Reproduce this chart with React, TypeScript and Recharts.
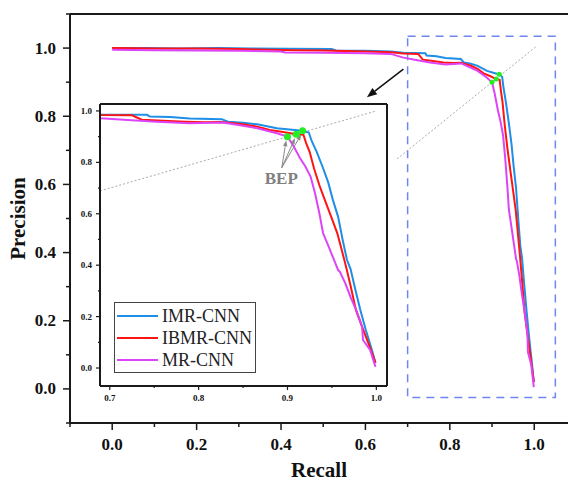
import React from "react";
import {
  ComposedChart,
  Line,
  XAxis,
  YAxis,
  ReferenceArea,
  ReferenceLine,
  ReferenceDot,
} from "recharts";

const seriesNames = ["IMR-CNN", "IBMR-CNN", "MR-CNN"];
const seriesColors = ["#1f8ee6", "#ff1414", "#dd44f7"];

const imrRecall = [0, 0.08, 0.16, 0.25, 0.33, 0.42, 0.52, 0.53, 0.6, 0.66, 0.69, 0.742, 0.745, 0.768, 0.79, 0.826, 0.833, 0.85, 0.866, 0.888, 0.905, 0.917, 0.924, 0.927, 0.933, 0.94, 0.946, 0.951, 0.957, 0.962, 0.967, 0.971, 0.976, 0.982, 0.988, 0.995, 0.999];
const imrPrecision = [1.0, 1.0, 0.999, 1.0, 0.999, 0.998, 0.997, 0.993, 0.992, 0.99, 0.986, 0.985, 0.978, 0.976, 0.971, 0.968, 0.958, 0.954, 0.948, 0.933, 0.927, 0.923, 0.916, 0.885, 0.84, 0.778, 0.72, 0.655, 0.588, 0.5, 0.42, 0.385, 0.31, 0.226, 0.15, 0.07, 0.02];

const ibmrRecall = [0, 0.1, 0.2, 0.3, 0.37, 0.43, 0.5, 0.6, 0.66, 0.69, 0.725, 0.736, 0.76, 0.785, 0.807, 0.826, 0.85, 0.866, 0.88, 0.895, 0.91, 0.918, 0.921, 0.925, 0.93, 0.936, 0.942, 0.949, 0.956, 0.961, 0.966, 0.971, 0.977, 0.984, 0.991, 0.996, 0.999];
const ibmrPrecision = [1.0, 0.999, 0.999, 0.997, 0.995, 0.994, 0.993, 0.99, 0.988, 0.984, 0.983, 0.966, 0.962, 0.958, 0.956, 0.957, 0.948, 0.939, 0.926, 0.918, 0.909, 0.907, 0.875, 0.84, 0.775, 0.71, 0.654, 0.59, 0.525, 0.46, 0.393, 0.32, 0.226, 0.16, 0.097, 0.05, 0.02];

const mrRecall = [0, 0.1, 0.2, 0.3, 0.4, 0.41, 0.5, 0.6, 0.66, 0.69, 0.72, 0.753, 0.79, 0.827, 0.845, 0.866, 0.888, 0.9, 0.906, 0.914, 0.92, 0.926, 0.931, 0.936, 0.94, 0.946, 0.951, 0.957, 0.959, 0.965, 0.971, 0.978, 0.984, 0.985, 0.993, 0.999];
const mrPrecision = [0.995, 0.994, 0.993, 0.992, 0.99, 0.987, 0.986, 0.985, 0.983, 0.972, 0.965, 0.958, 0.952, 0.955, 0.945, 0.933, 0.913, 0.9, 0.868, 0.817, 0.785, 0.745, 0.68, 0.6, 0.525, 0.475, 0.432, 0.381, 0.374, 0.33, 0.276, 0.22, 0.16, 0.109, 0.07, 0.005];

// break-even points (blue, red, magenta)
const bepRecall = [0.917, 0.91, 0.9];
const bepPrecision = [0.923, 0.909, 0.9];

const mainTicksX = [-0.1, 0, 0.1, 0.2, 0.3, 0.4, 0.5, 0.6, 0.7, 0.8, 0.9, 1.0];
const mainTicksY = [-0.1, 0, 0.1, 0.2, 0.3, 0.4, 0.5, 0.6, 0.7, 0.8, 0.9, 1.0, 1.1];
const insetTicksX = [0.7, 0.75, 0.8, 0.85, 0.9, 0.95, 1.0];
const insetTicksY = [0, 0.1, 0.2, 0.3, 0.4, 0.5, 0.6, 0.7, 0.8, 0.9, 1.0];

const toPoints = (r: number[], p: number[]) => r.map((x, i) => ({ recall: x, precision: p[i] }));
const series = [
  toPoints(imrRecall, imrPrecision),
  toPoints(ibmrRecall, ibmrPrecision),
  toPoints(mrRecall, mrPrecision),
];

const FONT = "'Liberation Serif', 'Times New Roman', serif";
const AXIS = "#1a1a1a";

const isMajor = (v: number, step: number) => Math.abs(Math.round(v / step) * step - v) < 1e-6;

const MainYTick = (props: any) => {
  const { x, y, payload } = props;
  const major = isMajor(payload.value, 0.2);
  return (
    <g>
      <line x1={x} x2={x - (major ? 7 : 4)} y1={y} y2={y} stroke={AXIS} strokeWidth={1.5} />
      {major && (
        <text x={x - 14} y={y} textAnchor="end" dominantBaseline="central" fontFamily={FONT} fontWeight="bold" fontSize={17} fill="#111">
          {payload.value.toFixed(1)}
        </text>
      )}
    </g>
  );
};

const MainXTick = (props: any) => {
  const { x, y, payload } = props;
  const major = isMajor(payload.value, 0.2);
  return (
    <g>
      <line x1={x} x2={x} y1={y} y2={y + (major ? 7 : 4)} stroke={AXIS} strokeWidth={1.5} />
      {major && (
        <text x={x} y={y + 27} textAnchor="middle" fontFamily={FONT} fontWeight="bold" fontSize={17} fill="#111">
          {payload.value.toFixed(1)}
        </text>
      )}
    </g>
  );
};

const InsetYTick = (props: any) => {
  const { x, y, payload } = props;
  const major = isMajor(payload.value, 0.2);
  return (
    <g>
      <line x1={x} x2={x - (major ? 4 : 2)} y1={y} y2={y} stroke={AXIS} strokeWidth={1.2} />
      {major && (
        <text x={x - 8} y={y} textAnchor="end" dominantBaseline="central" fontFamily={FONT} fontWeight="bold" fontSize={9} fill="#111">
          {payload.value.toFixed(1)}
        </text>
      )}
    </g>
  );
};

const InsetXTick = (props: any) => {
  const { x, y, payload } = props;
  const major = isMajor(payload.value, 0.1);
  return (
    <g>
      <line x1={x} x2={x} y1={y} y2={y + (major ? 4 : 2)} stroke={AXIS} strokeWidth={1.2} />
      {major && (
        <text x={x} y={y + 15} textAnchor="middle" fontFamily={FONT} fontWeight="bold" fontSize={9} fill="#111">
          {payload.value.toFixed(1)}
        </text>
      )}
    </g>
  );
};

const Arrow = (props: any) => {
  const { x1, y1, x2, y2, stroke, strokeWidth, head = 8, spread = 3 } = props;
  const ang = Math.atan2(y2 - y1, x2 - x1);
  const bx = x2 - head * Math.cos(ang);
  const by = y2 - head * Math.sin(ang);
  const px = -Math.sin(ang) * spread;
  const py = Math.cos(ang) * spread;
  return (
    <g>
      <line x1={x1} y1={y1} x2={bx} y2={by} stroke={stroke} strokeWidth={strokeWidth} />
      <polygon points={`${x2},${y2} ${bx + px},${by + py} ${bx - px},${by - py}`} fill={stroke} />
    </g>
  );
};

function Curves() {
  return series.map((d, i) => (
    <Line
      key={seriesNames[i]}
      data={d}
      dataKey="precision"
      name={seriesNames[i]}
      type="linear"
      stroke={seriesColors[i]}
      strokeWidth={2}
      dot={false}
      isAnimationActive={false}
    />
  ));
}

function InsetLegend() {
  return (
    <div
      style={{
        position: "absolute",
        left: 114,
        top: 302,
        width: 142,
        height: 71,
        boxSizing: "border-box",
        border: "1px solid #444",
        background: "#fff",
        paddingTop: 2,
        fontFamily: FONT,
        fontSize: 18,
        color: "#222",
      }}
    >
      {seriesNames.map((n, i) => (
        <div key={n} style={{ height: 22, lineHeight: "22px", display: "flex", alignItems: "center", whiteSpace: "nowrap" }}>
          <span style={{ display: "inline-block", width: 41, height: 2.5, marginLeft: 2, background: seriesColors[i] }} />
          <span style={{ marginLeft: 4 }}>{n}</span>
        </div>
      ))}
    </div>
  );
}

export default function App() {
  return (
    <div style={{ position: "absolute", left: 0, top: 0, width: 568, height: 483, overflow: "hidden", background: "#fff" }}>
      <ComposedChart width={568} height={483} margin={{ top: 14, right: 0, bottom: 0, left: 8 }}>
        <XAxis
          type="number"
          dataKey="recall"
          domain={[-0.1, 1.08]}
          allowDataOverflow
          ticks={mainTicksX}
          interval={0}
          tick={<MainXTick />}
          tickLine={false}
          tickSize={0}
          tickMargin={0}
          height={60}
          axisLine={{ stroke: AXIS, strokeWidth: 2 }}
          label={{ value: "Recall", position: "insideBottom", offset: 6, style: { fontFamily: FONT, fontWeight: "bold", fontSize: 21, fill: "#111" } }}
        />
        <YAxis
          type="number"
          domain={[-0.1, 1.1]}
          allowDataOverflow
          ticks={mainTicksY}
          interval={0}
          tick={<MainYTick />}
          tickLine={false}
          tickSize={0}
          tickMargin={0}
          width={62}
          axisLine={{ stroke: AXIS, strokeWidth: 2 }}
          label={{ value: "Precision", angle: -90, position: "insideLeft", offset: 10, textAnchor: "middle", style: { fontFamily: FONT, fontWeight: "bold", fontSize: 21, fill: "#111" } }}
        />
        <ReferenceLine y={1.1} stroke={AXIS} strokeWidth={2} ifOverflow="visible" />
        <ReferenceArea
          x1={0.7}
          x2={1.05}
          y1={-0.025}
          y2={1.035}
          fill="none"
          fillOpacity={0}
          stroke="#6f86f2"
          strokeWidth={1.5}
          strokeDasharray="8 6"
          ifOverflow="visible"
        />
        <ReferenceLine
          segment={[{ x: 0.675, y: 0.675 }, { x: 1.005, y: 1.005 }]}
          stroke="#aaaaaa"
          strokeDasharray="2 2"
          strokeWidth={1}
          ifOverflow="visible"
        />
        {Curves()}
        {bepRecall.map((r, i) => (
          <ReferenceDot key={"m" + i} x={r} y={bepPrecision[i]} r={2.5} fill="#22ee22" stroke="none" ifOverflow="visible" />
        ))}
        <ReferenceLine
          segment={[{ x: 0.69, y: 0.938 }, { x: 0.6035, y: 0.856 }]}
          stroke="#111"
          strokeWidth={1.5}
          ifOverflow="visible"
          shape={(p: any) => <Arrow {...p} head={10} spread={4} />}
        />
      </ComposedChart>

      <div style={{ position: "absolute", left: 70, top: 100, width: 320, height: 310 }}>
        <ComposedChart width={320} height={310} margin={{ top: 4, right: 3, bottom: 0, left: 0 }}>
          <XAxis
            type="number"
            dataKey="recall"
            domain={[0.689, 1.012]}
            allowDataOverflow
            ticks={insetTicksX}
            interval={0}
            tick={<InsetXTick />}
            tickLine={false}
            tickSize={0}
            tickMargin={0}
            height={24}
            axisLine={{ stroke: AXIS, strokeWidth: 2 }}
          />
          <YAxis
            type="number"
            domain={[-0.07, 1.027]}
            allowDataOverflow
            ticks={insetTicksY}
            interval={0}
            tick={<InsetYTick />}
            tickLine={false}
            tickSize={0}
            tickMargin={0}
            width={30}
            axisLine={{ stroke: AXIS, strokeWidth: 2 }}
          />
          <ReferenceLine y={1.027} stroke={AXIS} strokeWidth={2} ifOverflow="visible" />
          <ReferenceLine x={1.012} stroke={AXIS} strokeWidth={2} ifOverflow="visible" />
          <ReferenceLine
            segment={[{ x: 0.689, y: 0.689 }, { x: 1.0, y: 1.0 }]}
            stroke="#aaaaaa"
            strokeDasharray="2 2"
            strokeWidth={1}
            ifOverflow="visible"
          />
          {Curves()}
          {bepRecall.map((r, i) => (
            <ReferenceLine
              key={"a" + i}
              segment={[{ x: 0.8936, y: 0.779 }, { x: r - 0.0015, y: bepPrecision[i] - 0.014 }]}
              stroke="#8a8a8a"
              strokeWidth={1}
              ifOverflow="visible"
              shape={(p: any) => <Arrow {...p} head={6} spread={2.2} />}
            />
          ))}
          {bepRecall.map((r, i) => (
            <ReferenceDot key={"b" + i} x={r} y={bepPrecision[i]} r={3.5} fill="#22ee22" stroke="none" ifOverflow="visible" />
          ))}
          <ReferenceDot
            x={0.893}
            y={0.716}
            r={0}
            ifOverflow="visible"
            shape={(p: any) => (
              <text x={p.cx} y={p.cy} textAnchor="middle" fontFamily={FONT} fontWeight="bold" fontSize={17} fill="#808080">
                BEP
              </text>
            )}
          />
        </ComposedChart>
      </div>
      <InsetLegend />
    </div>
  );
}
